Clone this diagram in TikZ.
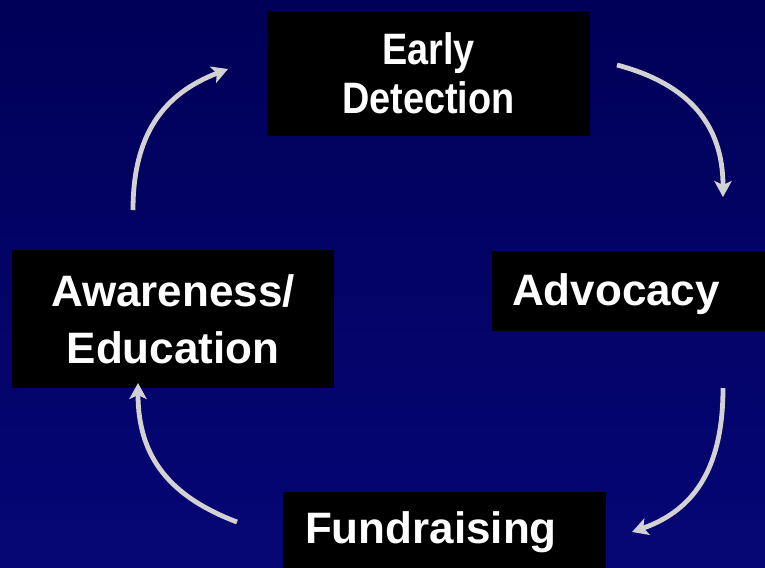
\documentclass[tikz,border=0pt]{standalone}
\usepackage{fontspec}
\setmainfont{Liberation Sans}
\newfontfamily\narrowsans[FakeStretch=0.86]{Liberation Sans}
\usetikzlibrary{arrows.meta}

\definecolor{navytop}{RGB}{0,0,88}
\definecolor{navybottom}{RGB}{6,6,118}
\definecolor{arcgray}{RGB}{210,210,210}

\begin{document}
\begin{tikzpicture}[x=0.75pt,y=0.75pt,yscale=-1,xscale=1,
  stagebox/.style={fill=black,text=white,inner sep=0pt,align=center},
  leftbox/.style={fill=black,text=white,inner ysep=0pt,align=left,text depth=4pt},
  cyclearrow/.style={draw=arcgray,line width=3.6pt,-{Stealth[length=12pt,width=13pt,inset=3pt]}}]
\useasboundingbox (0,0) rectangle (765,568);
\fill[top color=navytop,bottom color=navybottom] (0,0) rectangle (765,568);

% the four stages
\draw (428.5,73.5) node (early) [stagebox,minimum width=242.25pt,minimum height=93.75pt,font=\narrowsans\bfseries\fontsize{33}{36.75}\selectfont] {Early\\Detection};
\draw (628.5,291) node (advocacy) [leftbox,inner xsep=15pt,text width=174.75pt,minimum height=60pt,text height=25pt,font=\bfseries\fontsize{33}{36}\selectfont] {Advocacy};
\draw (444.5,530) node (fundraising) [leftbox,inner xsep=16.5pt,text width=209.25pt,minimum height=57pt,text height=25pt,text depth=5.5pt,font=\bfseries\fontsize{33}{36}\selectfont] {Fundraising};
\draw (173,319) node (awareness) [stagebox,minimum width=241.5pt,minimum height=103.5pt,font=\bfseries\fontsize{33}{42.75}\selectfont] {Awareness/\\Education};

% arrow ends
\coordinate (early-out) at (617,65);
\coordinate (advocacy-in) at (723,197);
\coordinate (advocacy-out) at (723,388);
\coordinate (fundraising-in) at (632,532);
\coordinate (fundraising-out) at (237,522);
\coordinate (awareness-in) at (138,383);
\coordinate (awareness-out) at (133,210);
\coordinate (early-in) at (228,69);

\draw[cyclearrow] (early-out) .. controls (689,84) and (723,125) .. (advocacy-in);
\draw[cyclearrow] (advocacy-out) .. controls (723,463) and (698,509) .. (fundraising-in);
\draw[cyclearrow] (fundraising-out) .. controls (171,497) and (138,458) .. (awareness-in);
\draw[cyclearrow] (awareness-out) .. controls (133,135) and (163,94) .. (early-in);
\end{tikzpicture}
\end{document}
